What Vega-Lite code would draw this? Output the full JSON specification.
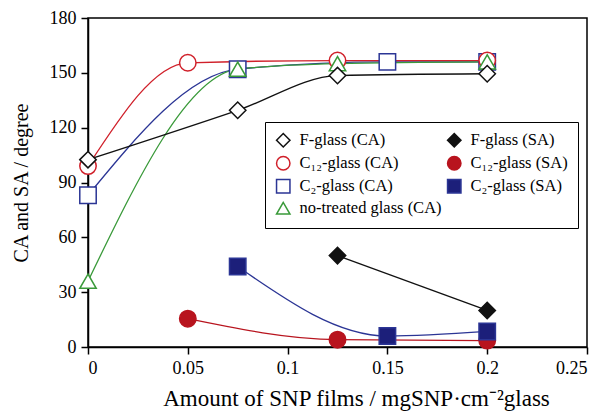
{
  "$schema": "https://vega.github.io/schema/vega-lite/v6.json",
  "width": 499,
  "height": 329,
  "autosize": {"type": "none"},
  "padding": {"left": 88, "top": 18, "right": 16, "bottom": 66},
  "background": "white",
  "config": {
    "font": "Liberation Serif",
    "view": {"stroke": "black", "strokeWidth": 1.5},
    "axis": {"grid": false, "domainColor": "black", "domainWidth": 1.5, "tickColor": "black", "tickWidth": 1.5, "tickSize": 7, "labelFont": "Liberation Serif", "labelFontSize": 18, "labelColor": "black", "titleFont": "Liberation Serif", "titleFontWeight": "normal", "titleColor": "black"},
    "legend": {"labelFont": "Liberation Serif", "labelFontSize": 16.5, "labelColor": "black"}
  },
  "data": {"values": [
    {"series": "C₂-glass (CA)", "x": 0, "y": 83},
    {"series": "C₂-glass (CA)", "x": 0.075, "y": 152},
    {"series": "C₂-glass (CA)", "x": 0.15, "y": 156},
    {"series": "C₂-glass (CA)", "x": 0.2, "y": 156},
    {"series": "C₁₂-glass (CA)", "x": 0, "y": 99},
    {"series": "C₁₂-glass (CA)", "x": 0.05, "y": 155.5},
    {"series": "C₁₂-glass (CA)", "x": 0.125, "y": 156.7},
    {"series": "C₁₂-glass (CA)", "x": 0.2, "y": 156.7},
    {"series": "no-treated glass (CA)", "x": 0, "y": 36},
    {"series": "no-treated glass (CA)", "x": 0.075, "y": 152},
    {"series": "no-treated glass (CA)", "x": 0.125, "y": 155},
    {"series": "no-treated glass (CA)", "x": 0.2, "y": 156},
    {"series": "F-glass (CA)", "x": 0, "y": 102.5},
    {"series": "F-glass (CA)", "x": 0.075, "y": 129.5},
    {"series": "F-glass (CA)", "x": 0.125, "y": 148.5},
    {"series": "F-glass (CA)", "x": 0.2, "y": 149.5},
    {"series": "F-glass (SA)", "x": 0.125, "y": 50},
    {"series": "F-glass (SA)", "x": 0.2, "y": 20},
    {"series": "C₁₂-glass (SA)", "x": 0.05, "y": 15.5},
    {"series": "C₁₂-glass (SA)", "x": 0.125, "y": 4},
    {"series": "C₁₂-glass (SA)", "x": 0.2, "y": 3.5},
    {"series": "C₂-glass (SA)", "x": 0.075, "y": 44},
    {"series": "C₂-glass (SA)", "x": 0.15, "y": 6},
    {"series": "C₂-glass (SA)", "x": 0.2, "y": 8.5}
  ]},
  "encoding": {
    "x": {"field": "x", "type": "quantitative", "scale": {"domain": [0, 0.25], "nice": false},
      "axis": {"values": [0, 0.05, 0.1, 0.15, 0.2, 0.25], "format": "~g", "labelPadding": 5, "title": "Amount of SNP films / mgSNP·cm⁻²glass", "titleFontSize": 23, "titlePadding": 10, "titleX": 268, "titleAlign": "center"}},
    "y": {"field": "y", "type": "quantitative", "scale": {"domain": [0, 180], "nice": false},
      "axis": {"values": [0, 30, 60, 90, 120, 150, 180], "labelPadding": 5, "title": "CA and SA / degree", "titleFontSize": 20, "titlePadding": 18}}
  },
  "layer": [
    {
      "mark": {"type": "line", "interpolate": "monotone", "strokeWidth": 1.3},
      "encoding": {
        "detail": {"field": "series"},
        "stroke": {"field": "series", "type": "nominal"}
      }
    },
    {
      "mark": {"type": "point", "size": 270, "strokeWidth": 1.5, "opacity": 1, "filled": false},
      "encoding": {
        "shape": {"field": "series", "type": "nominal",
          "scale": {"domain": ["F-glass (CA)", "C₁₂-glass (CA)", "C₂-glass (CA)", "no-treated glass (CA)", "F-glass (SA)", "C₁₂-glass (SA)", "C₂-glass (SA)"],
            "range": ["diamond", "circle", "square", "triangle-up", "diamond", "circle", "square"]},
          "legend": {"title": null, "orient": "none", "legendX": 177, "legendY": 104, "columns": 2, "columnPadding": 2, "rowPadding": 3, "padding": 10, "strokeColor": "black", "fillColor": "white", "symbolSize": 180, "symbolStrokeWidth": 1.5, "labelOffset": 8,
            "encode": {"legend": {"update": {"strokeWidth": {"value": 1.5}}}}}},
        "stroke": {"field": "series", "type": "nominal",
          "scale": {"domain": ["F-glass (CA)", "C₁₂-glass (CA)", "C₂-glass (CA)", "no-treated glass (CA)", "F-glass (SA)", "C₁₂-glass (SA)", "C₂-glass (SA)"],
            "range": ["#111111", "#d0202a", "#2b3595", "#3a9a3a", "#111111", "#b8141e", "#2b3595"]}},
        "fill": {"field": "series", "type": "nominal",
          "scale": {"domain": ["F-glass (CA)", "C₁₂-glass (CA)", "C₂-glass (CA)", "no-treated glass (CA)", "F-glass (SA)", "C₁₂-glass (SA)", "C₂-glass (SA)"],
            "range": ["white", "white", "white", "white", "#111111", "#b8141e", "#1c1f7a"]}}
      }
    }
  ]
}
